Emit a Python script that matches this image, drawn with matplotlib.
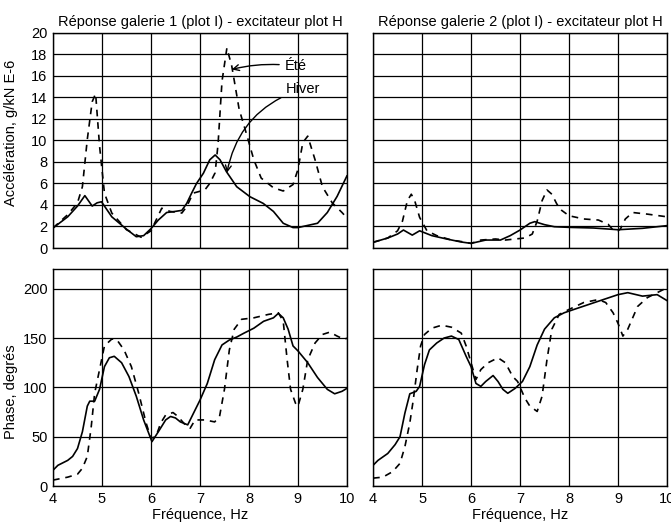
import numpy as np
import matplotlib.pyplot as plt

plt.rcParams['font.family'] = ['Liberation Sans', 'DejaVu Sans']
plt.rcParams['font.size'] = 10.5

# --- galerie 1, acceleration ---
f_acc1_hiv = [4.0, 4.3, 4.5, 4.65, 4.8, 4.9, 4.99, 5.2, 5.5, 5.7, 5.85, 6.0, 6.15, 6.32, 6.49,
              6.63, 6.73, 6.83, 6.93, 7.07, 7.2, 7.31, 7.41, 7.54, 7.75, 8.02, 8.29, 8.5, 8.7,
              8.9, 9.0, 9.2, 9.4, 9.6, 9.8, 10.0]
acc1_hiv = [1.86, 2.9, 3.9, 4.87, 3.9, 4.2, 4.3, 2.9, 1.75, 1.05, 1.15, 1.8, 2.6, 3.3, 3.4,
            3.5, 4.15, 5.1, 6.0, 6.95, 8.2, 8.65, 8.2, 7.1, 5.7, 4.77, 4.15, 3.4, 2.3,
            1.9, 1.9, 2.1, 2.3, 3.3, 4.8, 6.7]
f_acc1_ete = [4.0, 4.3, 4.5, 4.6, 4.7, 4.8, 4.87, 4.95, 5.05, 5.2, 5.5, 5.8, 6.0, 6.22, 6.39,
              6.63, 6.73, 6.86, 7.1, 7.2, 7.31, 7.37, 7.45, 7.55, 7.65, 7.8, 7.95, 8.1, 8.25,
              8.5, 8.7, 8.9, 9.0, 9.1, 9.2, 9.35, 9.5, 9.7, 9.9, 10.0]
acc1_ete = [1.86, 3.1, 4.2, 5.7, 10.1, 13.6, 14.35, 9.5, 5.1, 3.25, 1.7, 1.0, 1.6, 3.7, 3.4,
            3.25, 3.85, 5.1, 5.4, 6.0, 7.0, 9.7, 15.5, 18.6, 16.9, 12.9, 10.6, 8.2, 6.5,
            5.6, 5.3, 5.9, 7.3, 9.8, 10.4, 8.2, 5.7, 4.2, 3.3, 2.8]

# --- galerie 2, acceleration ---
f_acc2_hiv = [4.0, 4.3, 4.5, 4.62, 4.8, 4.95, 5.2, 5.5, 5.8, 6.0, 6.3, 6.6, 6.8, 7.0, 7.2, 7.3,
              7.5, 7.7, 8.0, 8.5, 9.0, 9.5, 10.0]
acc2_hiv = [0.53, 0.93, 1.3, 1.67, 1.2, 1.6, 1.15, 0.84, 0.56, 0.43, 0.74, 0.74, 1.15, 1.67, 2.3,
            2.45, 2.17, 1.98, 1.92, 1.86, 1.7, 1.83, 2.08]
f_acc2_ete = [4.0, 4.3, 4.5, 4.6, 4.7, 4.78, 4.85, 4.95, 5.1, 5.3, 5.6, 5.9, 6.0, 6.2, 6.5, 6.7,
              6.9, 7.1, 7.25, 7.35, 7.45, 7.55, 7.65, 7.75, 7.85, 8.0, 8.3, 8.6, 8.8, 8.9, 9.0,
              9.05, 9.15, 9.3, 9.6, 10.0]
acc2_ete = [0.53, 0.93, 1.6, 2.5, 4.4, 5.0, 4.4, 2.85, 1.6, 1.15, 0.74, 0.53, 0.43, 0.74, 0.84,
            0.74, 0.84, 0.93, 1.3, 2.5, 4.4, 5.4, 5.0, 4.1, 3.5, 3.0, 2.7, 2.6, 2.2, 1.67, 1.6,
            1.77, 2.7, 3.3, 3.15, 2.9]

# --- galerie 1, phase ---
f_ph1_hiv = [4.0, 4.1, 4.3, 4.4, 4.5, 4.6, 4.7, 4.75, 4.85, 4.95, 5.05, 5.15, 5.25, 5.4, 5.55,
             5.7, 5.85, 5.95, 6.02, 6.15, 6.3, 6.4, 6.5, 6.6, 6.75, 6.85, 7.0, 7.15, 7.3, 7.45,
             7.6, 7.75, 7.9, 8.1, 8.3, 8.5, 8.6, 8.7, 8.8, 8.9, 9.0, 9.2, 9.4, 9.6, 9.75, 9.9,
             10.0]
ph1_hiv = [16, 21, 26, 30, 38, 55, 81, 86, 86, 98, 121, 130, 131.5, 125, 111, 91, 67, 54, 45, 55,
           67, 70.5, 69, 65, 62, 72, 87, 104, 128, 143, 148, 151, 155, 160, 167, 170.5, 175,
           170.5, 159, 142, 137, 125, 110, 98, 93.5, 96, 99]
f_ph1_ete = [4.0, 4.3, 4.5, 4.6, 4.7, 4.78, 4.85, 4.95, 5.05, 5.2, 5.3, 5.45, 5.6, 5.75, 5.9,
             6.0, 6.1, 6.2, 6.3, 6.45, 6.55, 6.7, 6.8, 6.9, 7.1, 7.3, 7.4, 7.5, 7.6, 7.7, 7.85,
             8.1, 8.4, 8.6, 8.7, 8.78, 8.85, 8.95, 9.0, 9.1, 9.2, 9.35, 9.5, 9.65, 9.8, 9.95,
             10.0]
ph1_ete = [6, 9, 12, 18, 30, 60, 94, 118, 142, 149, 148.5, 138, 121, 94, 64, 48.5, 50, 64, 72,
           74.5, 70.5, 62, 58.6, 67, 67, 65, 70.5, 98, 138, 159, 169, 170.5, 174, 175.6, 167, 128,
           98, 84, 80.7, 98, 128, 145, 153.6, 156, 152, 148.5, 150]

# --- galerie 2, phase ---
f_ph2_hiv = [4.0, 4.1, 4.3, 4.45, 4.55, 4.65, 4.75, 4.88, 4.95, 5.05, 5.15, 5.3, 5.45, 5.6, 5.75,
             5.9, 6.0, 6.1, 6.2, 6.3, 6.45, 6.55, 6.65, 6.75, 6.9, 7.05, 7.2, 7.35, 7.5, 7.7, 7.9,
             8.1, 8.4, 8.7, 9.0, 9.2, 9.5, 9.8, 10.0]
ph2_hiv = [21, 26, 33, 42, 50, 74, 93.5, 96, 101, 123, 138, 145, 150, 152, 148.5, 131.5, 121, 104,
           101, 106, 112, 106, 98, 94, 99, 106, 121, 143, 159, 170.5, 175.6, 179, 184, 189, 194,
           196, 192.5, 194, 188]
f_ph2_ete = [4.0, 4.2, 4.4, 4.55, 4.65, 4.75, 4.82, 4.9, 4.97, 5.05, 5.2, 5.4, 5.6, 5.8, 5.9, 6.0,
             6.1, 6.2, 6.35, 6.55, 6.7, 6.85, 6.95, 7.1, 7.2, 7.35, 7.45, 7.55, 7.65, 7.8, 8.0,
             8.3, 8.6, 8.75, 8.9, 9.0, 9.1, 9.2, 9.4, 9.6, 9.8, 10.0]
ph2_ete = [8, 9, 14.6, 23, 40, 64, 87, 118, 142, 153.6, 160, 163, 161, 155, 142, 125, 108, 118,
           125, 130, 125, 111, 106, 89, 81, 75.6, 91, 128, 159, 174, 179, 186, 189, 186, 175.6,
           165, 152, 159, 182, 191, 196, 201]

titles = ['Réponse galerie 1 (plot I) - excitateur plot H',
          'Réponse galerie 2 (plot I) - excitateur plot H']


def style(ax):
    ax.set_xlim(4, 10)
    ax.set_xticks(np.arange(4, 11, 1))
    ax.grid(True, color='black', linewidth=0.9)
    ax.tick_params(length=0, pad=4)
    for s in ax.spines.values():
        s.set_linewidth(1.0)


fig = plt.figure(figsize=(6.71, 5.26), dpi=100)
w, h_top, h_bot = 0.438, 0.409, 0.4126
ax1 = fig.add_axes([0.079, 0.5285, w, h_top])
ax2 = fig.add_axes([0.556, 0.5285, w, h_top])
ax3 = fig.add_axes([0.079, 0.076, w, h_bot])
ax4 = fig.add_axes([0.556, 0.076, w, h_bot])

solid = dict(color='black', linewidth=1.2)
dashed = dict(color='black', linewidth=1.2, linestyle=(0, (4, 3.5)))

ax1.plot(f_acc1_hiv, acc1_hiv, **solid)
ax1.plot(f_acc1_ete, acc1_ete, **dashed)
ax2.plot(f_acc2_hiv, acc2_hiv, **solid)
ax2.plot(f_acc2_ete, acc2_ete, **dashed)
ax3.plot(f_ph1_hiv, ph1_hiv, **solid)
ax3.plot(f_ph1_ete, ph1_ete, **dashed)
ax4.plot(f_ph2_hiv, ph2_hiv, **solid)
ax4.plot(f_ph2_ete, ph2_ete, **dashed)

for ax, t in zip([ax1, ax2], titles):
    style(ax)
    ax.set_ylim(0, 20)
    ax.set_yticks(np.arange(0, 21, 2))
    ax.set_xticklabels([])
    ax.set_title(t, fontsize=10.5, pad=5)
for ax in [ax3, ax4]:
    style(ax)
    ax.set_ylim(0, 220)
    ax.set_yticks([0, 50, 100, 150, 200])
    ax.set_xlabel('Fréquence, Hz', labelpad=2)
ax2.set_yticklabels([])
ax4.set_yticklabels([])

ax1.set_ylabel('Accélération, g/kN E-6')
ax3.set_ylabel('Phase, degrés')
ax1.yaxis.set_label_coords(-0.118, 0.537)
ax3.yaxis.set_label_coords(-0.118, 0.435)

ax1.annotate('Été', xy=(7.65, 16.6), xytext=(8.73, 16.9), va='center', ha='left',
             arrowprops=dict(arrowstyle='->', color='black', lw=1.0,
                             connectionstyle='arc3,rad=0.1', shrinkA=2, shrinkB=0))
ax1.annotate('Hiver', xy=(7.55, 7.0), xytext=(8.76, 14.8), va='center', ha='left',
             arrowprops=dict(arrowstyle='->', color='black', lw=1.0,
                             connectionstyle='arc3,rad=0.3', shrinkA=2, shrinkB=0))

fig.savefig('out.png', dpi=100)
